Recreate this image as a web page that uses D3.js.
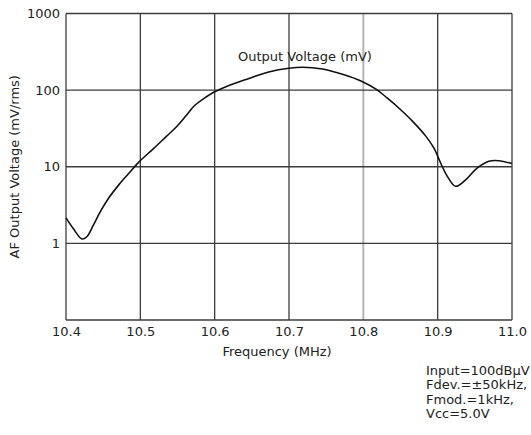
<!DOCTYPE html>
<html>
<head>
<meta charset="utf-8">
<script src="https://cdn.jsdelivr.net/npm/d3@7"></script>
<style>
  body { margin: 0; background: #fff; }
  svg text { font-family: "DejaVu Sans", sans-serif; fill: #222; }
</style>
</head>
<body>
<svg id="chart"></svg>
<script>
// Frequency (MHz) and AF output voltage (mVrms)
const freq = [10.400, 10.410, 10.4215, 10.428, 10.437, 10.446, 10.457, 10.471, 10.484, 10.498,
              10.517, 10.535, 10.549, 10.562, 10.573, 10.589, 10.600, 10.620, 10.647, 10.674,
              10.700, 10.718, 10.745, 10.772, 10.799, 10.817, 10.832, 10.848, 10.866, 10.884,
              10.895, 10.904, 10.913, 10.924, 10.938, 10.953, 10.969, 10.982, 11.000];
const voltage = [2.15, 1.55, 1.14, 1.22, 1.74, 2.57, 3.85, 5.8, 8.1, 11.5,
                 17.0, 24.9, 33.5, 47, 63, 82, 95, 116, 143, 174,
                 193, 199, 189, 161, 129, 103, 79, 58, 39.4, 25.1,
                 17.5, 11.2, 7.5, 5.56, 6.8, 9.6, 11.8, 12.0, 11.0];
const xTicks = [10.4, 10.5, 10.6, 10.7, 10.8, 10.9, 11.0];
const yTicks = [0.1, 1, 10, 100, 1000];
const yLabels = [1, 10, 100, 1000];
const seriesName = 'Output Voltage (mV)';
const noteLines = ['Input=100dB\u03bcV', 'Fdev.=\u00b150kHz,', 'Fmod.=1kHz,', 'Vcc=5.0V'];

const width = 531, height = 435;
const margin = {top: 13.5, right: 19, bottom: 115, left: 66};

const svg = d3.select('#chart').attr('width', width).attr('height', height);

const x = d3.scaleLinear().domain([10.4, 11.0]).range([margin.left, width - margin.right]);
const y = d3.scaleLog().domain([0.1, 1000]).range([height - margin.bottom, margin.top]);

const gridColor = '#3c3c3c';

// vertical grid lines
svg.append('g')
  .selectAll('line')
  .data(xTicks)
  .join('line')
    .attr('x1', d => x(d)).attr('x2', d => x(d))
    .attr('y1', y(0.1)).attr('y2', y(1000))
    .attr('stroke', d => d === 10.8 ? '#b4b4b4' : gridColor)
    .attr('stroke-width', d => d === 10.8 ? 2 : 1.3);

// horizontal grid lines
svg.append('g')
  .selectAll('line')
  .data(yTicks)
  .join('line')
    .attr('x1', x(10.4)).attr('x2', x(11.0))
    .attr('y1', d => y(d)).attr('y2', d => y(d))
    .attr('stroke', gridColor)
    .attr('stroke-width', 1.3);

// x axis labels
const xAxis = d3.axisBottom(x).tickValues(xTicks).tickFormat(d3.format('.1f')).tickSize(0).tickPadding(0);
const xAxisG = svg.append('g')
  .attr('transform', `translate(0, ${y(0.1)})`)
  .call(xAxis);
xAxisG.select('.domain').remove();
xAxisG.selectAll('text')
  .attr('y', 16).attr('dy', 0)
  .attr('font-size', 13);

// y axis labels
const yAxis = d3.axisLeft(y).tickValues(yLabels).tickFormat(d3.format('d')).tickSize(0).tickPadding(6);
const yAxisG = svg.append('g')
  .attr('transform', `translate(${x(10.4)}, 0)`)
  .call(yAxis);
yAxisG.select('.domain').remove();
yAxisG.selectAll('text').attr('font-size', 13);

// curve
const line = d3.line()
  .x(d => x(d[0]))
  .y(d => y(d[1]))
  .curve(d3.curveCatmullRom.alpha(0.5));

svg.append('path')
  .datum(freq.map((f, i) => [f, voltage[i]]))
  .attr('d', line)
  .attr('fill', 'none')
  .attr('stroke', '#111')
  .attr('stroke-width', 1.6);

// series label
svg.append('text')
  .attr('x', 238).attr('y', 61)
  .attr('font-size', 13)
  .text(seriesName);

// axis titles
svg.append('text')
  .attr('x', 277).attr('y', 356)
  .attr('text-anchor', 'middle')
  .attr('font-size', 13)
  .text('Frequency (MHz)');

svg.append('text')
  .attr('transform', `translate(19, ${(y(0.1) + y(1000)) / 2}) rotate(-90)`)
  .attr('text-anchor', 'middle')
  .attr('font-size', 13)
  .text('AF Output Voltage (mV/rms)');

// test conditions
svg.append('g')
  .selectAll('text')
  .data(noteLines)
  .join('text')
    .attr('x', 426)
    .attr('y', (d, i) => 375 + i * 14.3)
    .attr('font-size', 13)
    .text(d => d);
</script>
</body>
</html>
